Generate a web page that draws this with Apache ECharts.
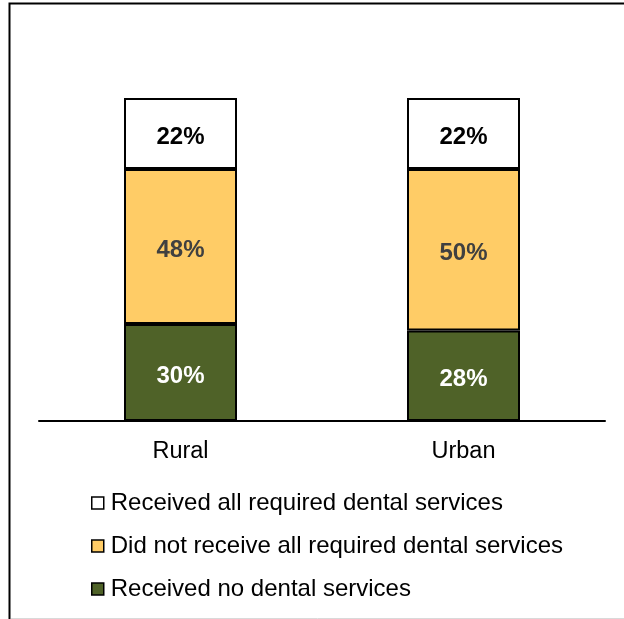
<!DOCTYPE html>
<html>
<head>
<meta charset="utf-8">
<script src="https://cdn.jsdelivr.net/npm/echarts@6/dist/echarts.min.js"></script>
<style>
html,body{margin:0;padding:0;background:#fff;}
#chart{width:624px;height:619px;}
</style>
</head>
<body>
<div id="chart"></div>
<script>
const categories = ['Rural', 'Urban'];
const seriesNames = ['Received no dental services', 'Did not receive all required dental services', 'Received all required dental services'];
const noServices = [30, 28];
const notAllServices = [48, 50];
const allServices = [22, 22];

const FONT = '"Liberation Sans", Arial, sans-serif';
const chart = echarts.init(document.getElementById('chart'), null, {renderer: 'canvas'});

function barSeries(name, data, color, labelColor) {
  return {
    name: name,
    type: 'bar',
    stack: 'total',
    data: data,
    barWidth: 113,
    itemStyle: {color: color, borderColor: '#000', borderWidth: 2},
    label: {
      show: true,
      position: 'inside',
      offset: [0, 4],
      formatter: '{c}%',
      color: labelColor,
      fontFamily: FONT,
      fontWeight: 'bold',
      fontSize: 24
    },
    emphasis: {disabled: true}
  };
}

chart.setOption({
  animation: false,
  backgroundColor: '#fff',
  grid: {left: 39, right: 19, top: 98, bottom: 198, containLabel: false},
  xAxis: {
    type: 'category',
    data: categories,
    axisLine: {lineStyle: {color: '#000', width: 2}},
    axisTick: {show: false},
    axisLabel: {color: '#000', fontFamily: FONT, fontSize: 23.5, margin: 19}
  },
  yAxis: {
    type: 'value',
    min: 0,
    max: 100,
    show: false,
    splitLine: {show: false}
  },
  legend: {
    orient: 'vertical',
    left: 86,
    top: 484,
    itemWidth: 12,
    itemHeight: 12,
    itemGap: 15,
    icon: 'rect',
    selectedMode: false,
    data: [seriesNames[2], seriesNames[1], seriesNames[0]],
    itemStyle: {borderColor: '#000', borderWidth: 1.5},
    textStyle: {color: '#000', fontFamily: FONT, fontSize: 24, lineHeight: 28, padding: [0, 0, 0, 2]}
  },
  graphic: [
    {type: 'rect', shape: {x: 9.5, y: 3.5, width: 800, height: 800}, style: {fill: 'none', stroke: '#000', lineWidth: 2}, silent: true},
    {type: 'line', shape: {x1: 11, y1: 618.5, x2: 624, y2: 618.5}, style: {stroke: '#d9d9d9', lineWidth: 1}, silent: true}
  ],
  series: [
    barSeries(seriesNames[0], noServices, '#4F6228', '#fff'),
    barSeries(seriesNames[1], notAllServices, '#FFCC66', '#404040'),
    barSeries(seriesNames[2], allServices, '#fff', '#000')
  ]
});
</script>
</body>
</html>
